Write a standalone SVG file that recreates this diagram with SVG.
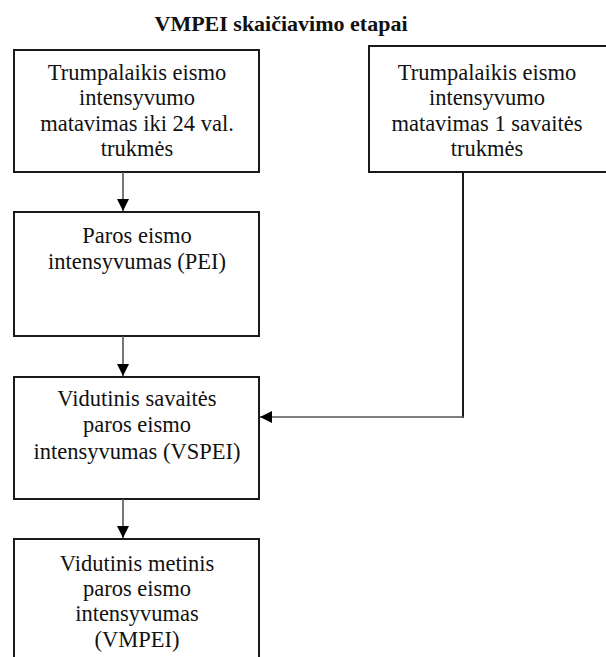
<svg xmlns="http://www.w3.org/2000/svg" width="606" height="657" viewBox="0 0 606 657">
<style>
.box{fill:#fff;stroke:#1a1a1a;stroke-width:2}
.t{font-size:22.5px;fill:#111;text-anchor:middle}
.title{font-size:22px;font-weight:bold;fill:#111;text-anchor:middle}
.c{fill:none;stroke:#555;stroke-width:1.6}
.cd{fill:none;stroke:#1a1a1a;stroke-width:2}
</style>
<defs>
<marker id="ah" markerUnits="userSpaceOnUse" markerWidth="12" markerHeight="14" viewBox="0 0 12 14" refX="12" refY="7" orient="auto">
<path d="M0,1 L12,7 L0,13 Z" fill="#000"/>
</marker>
</defs>
<rect width="606" height="657" fill="#fff"/>
<g font-family="'Liberation Serif', 'Times New Roman', 'DejaVu Serif', serif">
<text class="title" x="281" y="31">VMPEI skaičiavimo etapai</text>
<g id="n1">
<rect class="box" x="14" y="50" width="245" height="122"/>
<text class="t" x="137" y="80">Trumpalaikis eismo</text>
<text class="t" x="137" y="105">intensyvumo</text>
<text class="t" x="137" y="131">matavimas iki 24 val.</text>
<text class="t" x="137" y="156">trukmės</text>
</g>
<g id="n2">
<rect class="box" x="369" y="46" width="242" height="126"/>
<text class="t" x="487" y="80">Trumpalaikis eismo</text>
<text class="t" x="487" y="105">intensyvumo</text>
<text class="t" x="487" y="131">matavimas 1 savaitės</text>
<text class="t" x="487" y="156">trukmės</text>
</g>
<g id="n3">
<rect class="box" x="14" y="212" width="245" height="124"/>
<text class="t" x="137" y="243">Paros eismo</text>
<text class="t" x="137" y="269">intensyvumas (PEI)</text>
</g>
<g id="n4">
<rect class="box" x="14" y="377" width="245" height="122"/>
<text class="t" x="137" y="406">Vidutinis savaitės</text>
<text class="t" x="137" y="432">paros eismo</text>
<text class="t" x="137" y="459">intensyvumas (VSPEI)</text>
</g>
<g id="n5">
<rect class="box" x="14" y="539" width="245" height="130"/>
<text class="t" x="137" y="571">Vidutinis metinis</text>
<text class="t" x="137" y="596">paros eismo</text>
<text class="t" x="137" y="621">intensyvumas</text>
<text class="t" x="137" y="647">(VMPEI)</text>
</g>
</g>
<g id="connectors">
<line class="c" x1="123" y1="172" x2="123" y2="211" marker-end="url(#ah)"/>
<line class="c" x1="123" y1="336" x2="123" y2="376" marker-end="url(#ah)"/>
<line class="c" x1="123" y1="499" x2="123" y2="538" marker-end="url(#ah)"/>
<line class="cd" x1="463" y1="172" x2="463" y2="418"/>
<line class="c" x1="464" y1="417" x2="260" y2="417" marker-end="url(#ah)"/>
</g>
</svg>
